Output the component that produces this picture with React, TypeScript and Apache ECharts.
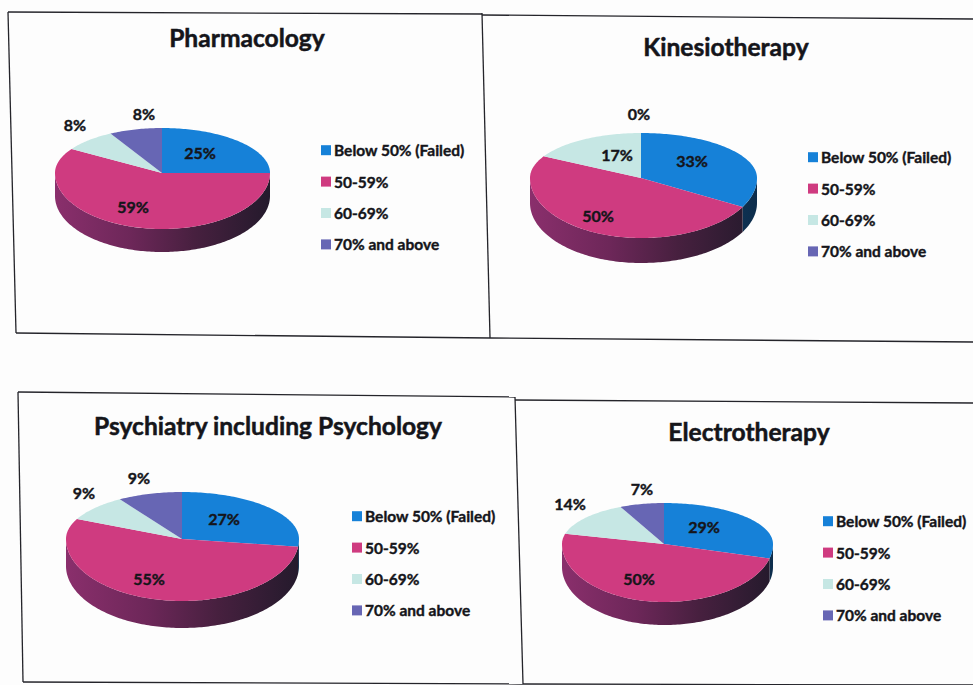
import React, { useEffect, useRef } from "react";
import * as echarts from "echarts";

const categories = ["Below 50% (Failed)", "50-59%", "60-69%", "70% and above"];
const pharmacology = [25, 59, 8, 8];
const kinesiotherapy = [33, 50, 17, 0];
const psychiatry = [27, 55, 9, 9];
const electrotherapy = [29, 50, 14, 7];

const FONT = "Lato, Carlito, 'Open Sans', sans-serif";
const INK = "#15151a";
const topColors = ["#1681d8", "#cf3b80", "#c6e7e4", "#6766b4"];
const sideStops = [
  [[0, "#1b6aa8"], [0.6, "#123f66"], [1, "#0d2d4c"]],
  [[0, "#8a2f6c"], [0.35, "#6d2759"], [0.65, "#47203f"], [1, "#241a2c"]],
  [[0, "#7fa6a4"], [1, "#4d6d6c"]],
  [[0, "#45427e"], [1, "#2b2a55"]],
];

const panels = [
  {
    title: "Pharmacology", values: pharmacology, titleX: 247, titleY: 37,
    ax: 162, ay: 173, rxL: 107, rxR: 108, ryUp: 45, ryDown: 56, depth: 23,
    labels: [[200, 152], [133, 206], [75, 124], [144, 113]],
    legendX: 321, legendY: 142,
  },
  {
    title: "Kinesiotherapy", values: kinesiotherapy, titleX: 726, titleY: 46,
    ax: 641, ay: 178, rxL: 111, rxR: 116, ryUp: 45, ryDown: 60, depth: 25,
    labels: [[692, 160], [598, 215], [617, 154], [639, 113]],
    legendX: 808, legendY: 149,
  },
  {
    title: "Psychiatry including Psychology", values: psychiatry, titleX: 268, titleY: 425,
    ax: 182, ay: 539, rxL: 116, rxR: 117, ryUp: 47, ryDown: 62, depth: 27,
    labels: [[224, 518], [149, 578], [84, 492], [139, 477]],
    legendX: 352, legendY: 508,
  },
  {
    title: "Electrotherapy", values: electrotherapy, titleX: 749, titleY: 431,
    ax: 664, ay: 544, rxL: 102, rxR: 109, ryUp: 41, ryDown: 58, depth: 23,
    labels: [[704, 526], [639, 578], [570, 503], [642, 488]],
    legendX: 823, legendY: 513,
  },
];

const frameLines = [
  [[8, 12], [482, 14]], [[8, 12], [16, 333]], [[16, 333], [490, 338]], [[482, 13], [490, 338]],
  [[482, 15], [973, 19]], [[490, 338], [973, 342]],
  [[18, 392], [515, 397]], [[18, 392], [23, 682]], [[23, 682], [523, 684]], [[515, 397], [523, 684]],
  [[515, 400], [973, 403]], [[523, 684], [973, 685]],
];

function point(p: any, theta: number, dy = 0) {
  const s = Math.sin(theta);
  const c = Math.cos(theta);
  return [
    p.ax + s * (s >= 0 ? p.rxR : p.rxL),
    p.ay - c * (c >= 0 ? p.ryUp : p.ryDown) + dy,
  ];
}

function arc(p: any, a: number, b: number, dy = 0) {
  const n = Math.max(2, Math.ceil((b - a) / 0.02));
  const out: number[][] = [];
  for (let i = 0; i <= n; i++) out.push(point(p, a + ((b - a) * i) / n, dy));
  return out;
}

function sliceSeries(p: any, idx: number) {
  const start = p.values.slice(0, idx).reduce((x: number, y: number) => x + y, 0);
  const total = p.values.reduce((x: number, y: number) => x + y, 0);
  return {
    type: "custom",
    name: categories[idx],
    coordinateSystem: "none",
    silent: true,
    itemStyle: { color: topColors[idx] },
    data: [[p.values[idx], start, total]],
    renderItem: (_: any, api: any) => {
      const v = api.value(0);
      const a = (api.value(1) / api.value(2)) * Math.PI * 2;
      const b = ((api.value(1) + v) / api.value(2)) * Math.PI * 2;
      const children: any[] = [];
      const lo = Math.max(a, Math.PI / 2);
      const hi = Math.min(b, (Math.PI * 3) / 2);
      if (hi > lo) {
        const upper = arc(p, lo, hi);
        const lower = arc(p, lo, hi, p.depth).reverse();
        children.push({
          type: "polygon",
          shape: { points: upper.concat(lower) },
          style: {
            fill: new echarts.graphic.LinearGradient(
              p.ax - p.rxL, 0, p.ax + p.rxR, 0,
              sideStops[idx].map(([offset, color]) => ({ offset, color })) as any,
              true
            ),
          },
        });
      }
      if (b > a) {
        children.push({
          type: "polygon",
          shape: { points: [[p.ax, p.ay], ...arc(p, a, b)] },
          style: { fill: topColors[idx] },
        });
      }
      children.push({
        type: "text",
        x: p.labels[idx][0],
        y: p.labels[idx][1],
        z2: 50,
        style: {
          text: `${v}%`,
          fill: INK,
          stroke: INK,
          lineWidth: 0.4,
          font: `bold 16px ${FONT}`,
          align: "center",
          verticalAlign: "middle",
        },
      });
      return { type: "group", children };
    },
  };
}

export default function App() {
  const ref = useRef<HTMLDivElement>(null);
  useEffect(() => {
    const chart = echarts.init(ref.current!, undefined, { renderer: "svg" });
    chart.setOption({
      animation: false,
      backgroundColor: "#fdfdfd",
      title: panels.map((p) => ({
        text: p.title,
        left: p.titleX,
        top: p.titleY - 15,
        padding: 0,
        textAlign: "center",
        textStyle: {
          fontFamily: FONT, fontWeight: "bold", fontSize: 24.6, color: INK, lineHeight: 30,
          textBorderColor: INK, textBorderWidth: 0.5,
        },
      })),
      legend: panels.map((p) => ({
        orient: "vertical",
        left: p.legendX,
        top: p.legendY,
        data: categories,
        icon: "rect",
        itemWidth: 10,
        itemHeight: 10,
        itemGap: 15,
        padding: 0,
        selectedMode: false,
        textStyle: {
          fontFamily: FONT, fontWeight: "bold", fontSize: 15.5, color: INK,
          padding: [0, 0, 0, -2], lineHeight: 16,
          textBorderColor: INK, textBorderWidth: 0.4,
        },
      })),
      graphic: frameLines.map(([a, b]) => ({
        type: "line",
        silent: true,
        z: -1,
        shape: { x1: a[0], y1: a[1], x2: b[0], y2: b[1] },
        style: { stroke: "#24242a", lineWidth: 1.3 },
      })),
      series: panels.flatMap((p) => categories.map((_, i) => sliceSeries(p, i))),
    });
    return () => chart.dispose();
  }, []);
  return <div ref={ref} style={{ position: "fixed", left: 0, top: 0, width: 973, height: 685 }} />;
}
